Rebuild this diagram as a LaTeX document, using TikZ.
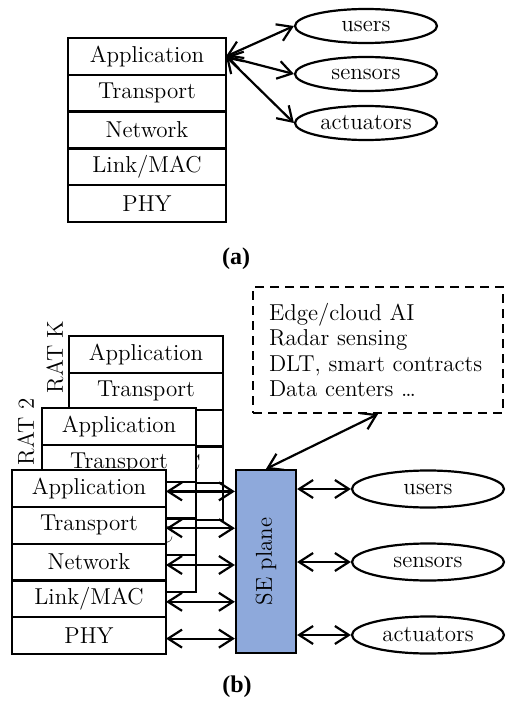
\documentclass[tikz,border=0pt]{standalone}
\usepackage{fontspec}
\newfontfamily\labfont{Liberation Serif}
\usetikzlibrary{arrows.meta,shapes.geometric}
\definecolor{seblue}{HTML}{8EA9DB}
\tikzset{
  base/.style={font=\fontsize{11.5}{13}\selectfont},
  layer/.style={base,draw,fill=white,line width=1.1pt,inner sep=0pt,outer sep=0pt,minimum height=18.4pt},
  ent/.style={base,ellipse,draw,line width=1.1pt,inner sep=0pt},
  biarrow/.style={{Straight Barb[length=7pt,width=9pt]}-{Straight Barb[length=7pt,width=9pt]},line width=1.1pt},
  ratlab/.style={base,rotate=90,inner sep=0pt},
  sublab/.style={font=\labfont\bfseries\fontsize{12}{14}\selectfont,inner sep=0pt}
}
\newcommand\mystack[4]{%
  \foreach \t [count=\i] in {Application,Transport,Network,Link/MAC,PHY}{%
    \node[layer,minimum width=#4] (#1\i) at (#2,{#3+(\i-0.5)*36.8}) {\t};}}
\begin{document}
\begin{tikzpicture}[x=0.5pt,y=-0.5pt]
\useasboundingbox (0,0) rectangle (507,701);
% ---------- (a)
\mystack{a}{147}{38}{79pt}
\node[ent,minimum width=71pt,minimum height=17pt] (au) at (366,26) {users};
\node[ent,minimum width=71pt,minimum height=17pt] (as) at (366,74) {sensors};
\node[ent,minimum width=71pt,minimum height=17pt] (aa) at (366,123) {actuators};
\draw[biarrow] (a1.east) -- (au.west);
\draw[biarrow] (a1.east) -- (as.west);
\draw[biarrow] (a1.east) -- (aa.west);
\node[sublab] (la) at (236,259) {(a)};
% ---------- (b)
\mystack{k}{146}{336}{77pt}
\node[ratlab] (rk) at (55,357) {RAT K};
\mystack{r}{119}{408}{77pt}
\node[ratlab] (r2) at (26,432) {RAT 2};
\mystack{f}{89}{470}{77pt}
\node[draw,fill=seblue,line width=1.1pt,minimum width=30pt,minimum height=91.5pt,inner sep=0pt] (se) at (266,561.5) {};
\node[base,rotate=90] (setxt) at (se.center) {SE plane};
\foreach \i in {1,...,5}{\draw[biarrow] ([yshift=-1.5pt]f\i.east) -- ([yshift=-1.5pt]f\i.east -| se.west);}
\node[ent,minimum width=76pt,minimum height=18.5pt] (bu) at (428,489) {users};
\node[ent,minimum width=76pt,minimum height=18.5pt] (bs) at (428,562) {sensors};
\node[ent,minimum width=76pt,minimum height=18.5pt] (ba) at (428,635) {actuators};
\draw[biarrow] (bu.west -| se.east) -- (bu.west);
\draw[biarrow] (bs.west -| se.east) -- (bs.west);
\draw[biarrow] (ba.west -| se.east) -- (ba.west);
\node[draw,line width=1.1pt,dash pattern=on 4.5pt off 3pt,minimum width=125pt,minimum height=63pt,text width=109pt,align=left,inner xsep=8pt,inner ysep=0pt,font=\fontsize{11.5}{12.6}\selectfont] (dc) at (378,350) {Edge/cloud AI\\Radar sensing\\DLT, smart contracts\\Data centers \dots};
\draw[biarrow] (dc.south) -- (se.north);
\node[sublab] (lb) at (237,687) {(b)};
\end{tikzpicture}
\end{document}
